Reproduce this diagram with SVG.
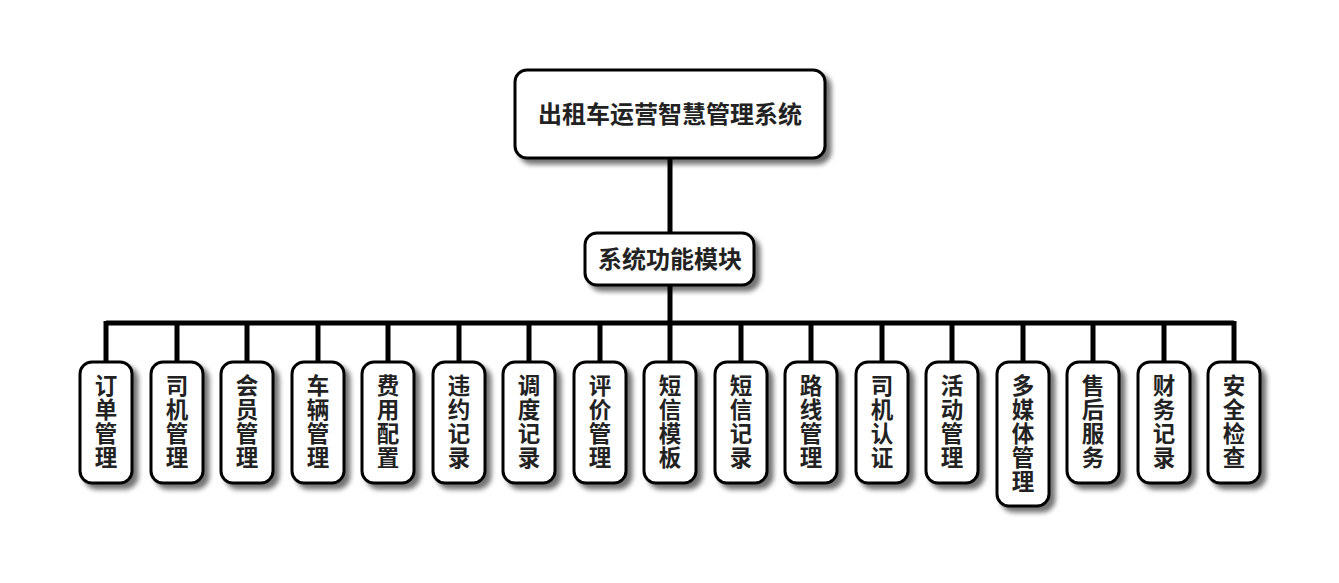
<svg xmlns="http://www.w3.org/2000/svg" width="1339" height="583" viewBox="0 0 1339 583">
<defs>
<filter id="sh" x="-30%" y="-30%" width="160%" height="160%">
<feGaussianBlur in="SourceAlpha" stdDeviation="2.5"/>
<feOffset dx="5" dy="5" result="b"/>
<feComponentTransfer><feFuncA type="linear" slope="0.55"/></feComponentTransfer>
<feMerge><feMergeNode/><feMergeNode in="SourceGraphic"/></feMerge>
</filter>
<style>
.box{fill:#fff;stroke:#000;stroke-width:3;filter:url(#sh)}
.t{font-family:"Noto Sans CJK SC","Noto Sans",sans-serif;font-weight:bold;fill:#222;text-anchor:middle}
.top{font-size:24px}
.leaf{font-size:22.5px}
.ln{stroke:#000;stroke-width:5;fill:none}
</style>
</defs>
<rect width="1339" height="583" fill="#fff"/>
<g id="connectors">
<path class="ln" d="M670 158V233M670 285V323M106 323H1234"/>
<path class="ln" d="M106 321V362M177 321V362M247 321V362M318 321V362M388 321V362M459 321V362M529 321V362M600 321V362M670 321V362M741 321V362M811 321V362M882 321V362M952 321V362M1023 321V362M1093 321V362M1164 321V362M1234 321V362"/>
</g>
<g id="root"><rect class="box" x="515" y="70" width="310" height="88" rx="12"/><text class="t top" x="670" y="123">出租车运营智慧管理系统</text></g>
<g id="modules"><rect class="box" x="585" y="233" width="169" height="52" rx="12"/><text class="t top" x="670" y="268">系统功能模块</text></g>
<g id="n1"><rect class="box" x="80" y="362" width="52" height="121" rx="12"/><text class="t leaf"><tspan x="106" y="394">订</tspan><tspan x="106" y="418">单</tspan><tspan x="106" y="442">管</tspan><tspan x="106" y="466">理</tspan></text></g>
<g id="n2"><rect class="box" x="151" y="362" width="52" height="121" rx="12"/><text class="t leaf"><tspan x="177" y="394">司</tspan><tspan x="177" y="418">机</tspan><tspan x="177" y="442">管</tspan><tspan x="177" y="466">理</tspan></text></g>
<g id="n3"><rect class="box" x="221" y="362" width="52" height="121" rx="12"/><text class="t leaf"><tspan x="247" y="394">会</tspan><tspan x="247" y="418">员</tspan><tspan x="247" y="442">管</tspan><tspan x="247" y="466">理</tspan></text></g>
<g id="n4"><rect class="box" x="292" y="362" width="52" height="121" rx="12"/><text class="t leaf"><tspan x="318" y="394">车</tspan><tspan x="318" y="418">辆</tspan><tspan x="318" y="442">管</tspan><tspan x="318" y="466">理</tspan></text></g>
<g id="n5"><rect class="box" x="362" y="362" width="52" height="121" rx="12"/><text class="t leaf"><tspan x="388" y="394">费</tspan><tspan x="388" y="418">用</tspan><tspan x="388" y="442">配</tspan><tspan x="388" y="466">置</tspan></text></g>
<g id="n6"><rect class="box" x="433" y="362" width="52" height="121" rx="12"/><text class="t leaf"><tspan x="459" y="394">违</tspan><tspan x="459" y="418">约</tspan><tspan x="459" y="442">记</tspan><tspan x="459" y="466">录</tspan></text></g>
<g id="n7"><rect class="box" x="503" y="362" width="52" height="121" rx="12"/><text class="t leaf"><tspan x="529" y="394">调</tspan><tspan x="529" y="418">度</tspan><tspan x="529" y="442">记</tspan><tspan x="529" y="466">录</tspan></text></g>
<g id="n8"><rect class="box" x="574" y="362" width="52" height="121" rx="12"/><text class="t leaf"><tspan x="600" y="394">评</tspan><tspan x="600" y="418">价</tspan><tspan x="600" y="442">管</tspan><tspan x="600" y="466">理</tspan></text></g>
<g id="n9"><rect class="box" x="644" y="362" width="52" height="121" rx="12"/><text class="t leaf"><tspan x="670" y="394">短</tspan><tspan x="670" y="418">信</tspan><tspan x="670" y="442">模</tspan><tspan x="670" y="466">板</tspan></text></g>
<g id="n10"><rect class="box" x="715" y="362" width="52" height="121" rx="12"/><text class="t leaf"><tspan x="741" y="394">短</tspan><tspan x="741" y="418">信</tspan><tspan x="741" y="442">记</tspan><tspan x="741" y="466">录</tspan></text></g>
<g id="n11"><rect class="box" x="785" y="362" width="52" height="121" rx="12"/><text class="t leaf"><tspan x="811" y="394">路</tspan><tspan x="811" y="418">线</tspan><tspan x="811" y="442">管</tspan><tspan x="811" y="466">理</tspan></text></g>
<g id="n12"><rect class="box" x="856" y="362" width="52" height="121" rx="12"/><text class="t leaf"><tspan x="882" y="394">司</tspan><tspan x="882" y="418">机</tspan><tspan x="882" y="442">认</tspan><tspan x="882" y="466">证</tspan></text></g>
<g id="n13"><rect class="box" x="926" y="362" width="52" height="121" rx="12"/><text class="t leaf"><tspan x="952" y="394">活</tspan><tspan x="952" y="418">动</tspan><tspan x="952" y="442">管</tspan><tspan x="952" y="466">理</tspan></text></g>
<g id="n14"><rect class="box" x="997" y="362" width="52" height="144" rx="12"/><text class="t leaf"><tspan x="1023" y="394">多</tspan><tspan x="1023" y="418">媒</tspan><tspan x="1023" y="442">体</tspan><tspan x="1023" y="466">管</tspan><tspan x="1023" y="490">理</tspan></text></g>
<g id="n15"><rect class="box" x="1067" y="362" width="52" height="121" rx="12"/><text class="t leaf"><tspan x="1093" y="394">售</tspan><tspan x="1093" y="418">后</tspan><tspan x="1093" y="442">服</tspan><tspan x="1093" y="466">务</tspan></text></g>
<g id="n16"><rect class="box" x="1138" y="362" width="52" height="121" rx="12"/><text class="t leaf"><tspan x="1164" y="394">财</tspan><tspan x="1164" y="418">务</tspan><tspan x="1164" y="442">记</tspan><tspan x="1164" y="466">录</tspan></text></g>
<g id="n17"><rect class="box" x="1208" y="362" width="52" height="121" rx="12"/><text class="t leaf"><tspan x="1234" y="394">安</tspan><tspan x="1234" y="418">全</tspan><tspan x="1234" y="442">检</tspan><tspan x="1234" y="466">查</tspan></text></g>
</svg>
